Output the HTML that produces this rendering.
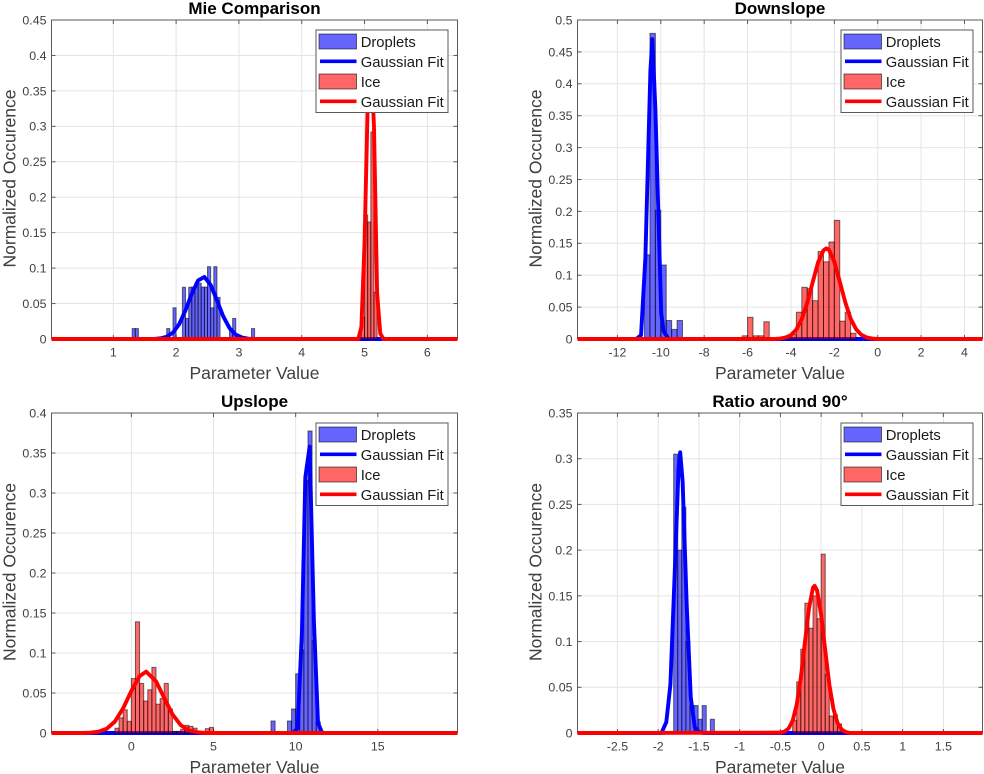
<!DOCTYPE html>
<html lang="en">
<head>
<meta charset="utf-8">
<title>Normalized occurrence histograms</title>
<style>
html,body{margin:0;padding:0;background:#fff;}
body{width:984px;height:774px;overflow:hidden;}
svg{display:block;font-family:"Liberation Sans",Arial,sans-serif;filter:blur(0.35px);}
</style>
</head>
<body>
<svg id="figure" xmlns="http://www.w3.org/2000/svg" width="984" height="774" viewBox="0 0 984 774"></svg>
<script>
/* ---- Mie Comparison ---- */
var mieXLimits = [0.016, 6.48];
var mieYLimits = [0, 0.45];
var mieXTicks = [1, 2, 3, 4, 5, 6];
var mieYTicks = [0, 0.05, 0.1, 0.15, 0.2, 0.25, 0.3, 0.35, 0.4, 0.45];
var mieBinWidth = [0.05];
var mieDropletBins = [1.3, 1.35, 1.85, 1.95, 2.1, 2.15, 2.2, 2.25, 2.3, 2.35, 2.4, 2.45, 2.5, 2.55, 2.6, 2.65, 2.85, 2.9, 3.2];
var mieDropletValues = [0.0147, 0.0147, 0.0147, 0.044, 0.073, 0.029, 0.073, 0.0733, 0.0787, 0.0787, 0.0733, 0.0733, 0.102, 0.044, 0.102, 0.0587, 0.0147, 0.029, 0.0147];
var mieDropletFitX = [0.016, 1.65, 1.75, 1.85, 1.95, 2.05, 2.15, 2.25, 2.35, 2.45, 2.55, 2.65, 2.75, 2.85, 2.95, 3.05, 3.15, 3.25, 6.48];
var mieDropletFitY = [0, 0, 0.0009, 0.0032, 0.009, 0.0211, 0.0406, 0.0639, 0.0826, 0.0876, 0.0763, 0.0545, 0.032, 0.0154, 0.0061, 0.002, 0.0005, 0, 0];
var mieIceBins = [4.95, 5.0, 5.05, 5.1, 5.15];
var mieIceValues = [0.031, 0.175, 0.165, 0.292, 0.066];
var mieIceFitX = [0.016, 4.9, 4.95, 5.0, 5.05, 5.1, 5.15, 5.2, 5.25, 5.3, 6.48];
var mieIceFitY = [0, 0, 0.017, 0.135, 0.33, 0.4, 0.3, 0.065, 0.008, 0, 0];

/* ---- Downslope ---- */
var downXLimits = [-13.84, 4.83];
var downYLimits = [0, 0.5];
var downXTicks = [-12, -10, -8, -6, -4, -2, 0, 2, 4];
var downYTicks = [0, 0.05, 0.1, 0.15, 0.2, 0.25, 0.3, 0.35, 0.4, 0.45, 0.5];
var downBinWidth = [0.25];
var downDropletBins = [-10.75, -10.5, -10.25, -10, -9.75, -9.5, -9.25];
var downDropletValues = [0.132, 0.479, 0.202, 0.116, 0.029, 0.015, 0.029];
var downDropletFitX = [-13.84, -11.13, -10.91, -10.71, -10.48, -10.39, -10.25, -9.98, -9.87, -9.64, 4.83];
var downDropletFitY = [0, 0, 0.006, 0.128, 0.42, 0.47, 0.36, 0.04, 0.012, 0, 0];
var downIceBins = [-6.25, -6, -5.75, -5.5, -5.25, -4.25, -4, -3.75, -3.5, -3.25, -3, -2.75, -2.5, -2.25, -2, -1.75, -1.5, -1.25];
var downIceValues = [0.005, 0.034, 0.005, 0.005, 0.027, 0.005, 0.0075, 0.042, 0.081, 0.079, 0.06, 0.137, 0.121, 0.152, 0.186, 0.028, 0.042, 0.009];
var downIceFitX = [-13.84, -4.75, -4.5, -4.25, -4, -3.75, -3.5, -3.25, -3, -2.75, -2.5, -2.37, -2.25, -2, -1.75, -1.5, -1.25, -1, -0.75, -0.5, -0.25, 0, 4.83];
var downIceFitY = [0, 0, 0.0007, 0.0022, 0.0061, 0.015, 0.0314, 0.0568, 0.0888, 0.12, 0.139, 0.142, 0.14, 0.121, 0.09, 0.058, 0.032, 0.0154, 0.0064, 0.0023, 0.0007, 0, 0];

/* ---- Upslope ---- */
var upXLimits = [-4.86, 19.85];
var upYLimits = [0, 0.4];
var upXTicks = [0, 5, 10, 15];
var upYTicks = [0, 0.05, 0.1, 0.15, 0.2, 0.25, 0.3, 0.35, 0.4];
var upBinWidth = [0.25];
var upDropletBins = [8.5, 9.5, 9.75, 10, 10.25, 10.5, 10.75, 11, 11.25];
var upDropletValues = [0.015, 0.015, 0.03, 0.074, 0.104, 0.316, 0.3775, 0.116, 0.014];
var upDropletFitX = [-4.86, 9.84, 10.12, 10.38, 10.59, 10.85, 11.11, 11.36, 11.62, 19.85];
var upDropletFitY = [0, 0, 0.006, 0.125, 0.32, 0.358, 0.14, 0.0125, 0, 0];
var upIceBins = [-1, -0.75, -0.5, -0.25, 0, 0.25, 0.5, 0.75, 1, 1.25, 1.5, 1.75, 2, 2.25, 2.5, 2.75, 3, 3.25, 3.5, 3.75, 4.5, 4.75];
var upIceValues = [0.006, 0.019, 0.029, 0.0146, 0.068, 0.139, 0.062, 0.04, 0.054, 0.082, 0.036, 0.043, 0.062, 0.03, 0.002, 0.002, 0.0046, 0.0096, 0.0083, 0.006, 0.0054, 0.007];
var upIceFitX = [-4.86, -3, -2.5, -2, -1.5, -1, -0.5, 0, 0.5, 0.9, 1.5, 2, 2.5, 3, 3.5, 4, 4.5, 19.85];
var upIceFitY = [0, 0, 0.0004, 0.0016, 0.0053, 0.0144, 0.0309, 0.0526, 0.071, 0.0767, 0.0647, 0.0437, 0.0234, 0.0099, 0.0033, 0.0009, 0, 0];

/* ---- Ratio around 90 ---- */
var ratioXLimits = [-2.99, 1.98];
var ratioYLimits = [0, 0.35];
var ratioXTicks = [-2.5, -2, -1.5, -1, -0.5, 0, 0.5, 1, 1.5];
var ratioYTicks = [0, 0.05, 0.1, 0.15, 0.2, 0.25, 0.3, 0.35];
var ratioBinWidth = [0.05];
var ratioDropletBins = [-1.81, -1.76, -1.71, -1.66, -1.61, -1.56, -1.51, -1.46, -1.36];
var ratioDropletValues = [0.305, 0.2, 0.247, 0.1, 0.03, 0.03, 0.015, 0.03, 0.015];
var ratioDropletFitX = [-2.99, -1.96, -1.9, -1.85, -1.8, -1.75, -1.73, -1.7, -1.65, -1.6, -1.55, -1.5, -1.45, 1.98];
var ratioDropletFitY = [0, 0, 0.012, 0.053, 0.168, 0.29, 0.307, 0.275, 0.14, 0.039, 0.006, 0.001, 0, 0];
var ratioIceBins = [-0.35, -0.3, -0.25, -0.2, -0.15, -0.1, -0.05, 0, 0.05, 0.1, 0.15, 0.2];
var ratioIceValues = [0.014, 0.056, 0.0916, 0.142, 0.1146, 0.15, 0.125, 0.1956, 0.064, 0.0186, 0.02, 0.01];
var ratioIceFitX = [-2.99, -0.5, -0.45, -0.4, -0.35, -0.3, -0.25, -0.2, -0.15, -0.1, -0.08, -0.05, 0, 0.05, 0.1, 0.15, 0.2, 0.25, 0.3, 0.35, 1.98];
var ratioIceFitY = [0, 0.0004, 0.0015, 0.0049, 0.0133, 0.0309, 0.06, 0.0985, 0.136, 0.159, 0.161, 0.156, 0.129, 0.0904, 0.0533, 0.0266, 0.0112, 0.0039, 0.0012, 0, 0];

var legendLabels = ['Droplets', 'Gaussian Fit', 'Ice', 'Gaussian Fit'];
var SVG_NS = 'http://www.w3.org/2000/svg';
var figure = document.getElementById('figure');

function make(tag, parent) {
  var node = document.createElementNS(SVG_NS, tag);
  parent.appendChild(node);
  return node;
}

function drawBars(layer, bins, values, width, xScale, yScale, fill) {
  bins.forEach(function (left, i) {
    var bar = make('rect', layer);
    
    
    bar.setAttribute('x', xScale(left));
    bar.setAttribute('y', yScale(values[i]));
    bar.setAttribute('width', xScale(left + width) - xScale(left));
    bar.setAttribute('height', yScale(0) - yScale(values[i]));
    bar.setAttribute('fill', fill);
    bar.setAttribute('fill-opacity', '0.6');
    bar.setAttribute('stroke', '#000');
    bar.setAttribute('stroke-opacity', '0.55');
    bar.setAttribute('stroke-width', '1');
  });
}

function drawFit(layer, xs, ys, xScale, yScale, color) {
  var fit = make('polyline', layer);
  
  
  fit.setAttribute('points', xs.map(function (x, i) {
    return xScale(x).toFixed(2) + ',' + yScale(ys[i]).toFixed(2);
  }).join(' '));
  fit.setAttribute('fill', 'none');
  fit.setAttribute('stroke', color);
  fit.setAttribute('stroke-width', '3.9');
  fit.setAttribute('stroke-linejoin', 'round');
}

function drawPanel(p) {
  var w = p.right - p.left;
  var h = p.bottom - p.top;
  function xScale(v) { return p.left + (v - p.xLimits[0]) / (p.xLimits[1] - p.xLimits[0]) * w; }
  function yScale(v) { return p.bottom - (v - p.yLimits[0]) / (p.yLimits[1] - p.yLimits[0]) * h; }

  var panel = make('g', figure);
  
  

  var grid = make('g', panel);
  
  
  p.xTicks.forEach(function (t) {
    var line = make('line', grid);
    
    
    line.setAttribute('x1', xScale(t));
    line.setAttribute('x2', xScale(t));
    line.setAttribute('y1', p.top);
    line.setAttribute('y2', p.bottom);
    line.setAttribute('stroke', '#e4e4e4');
  });
  p.yTicks.forEach(function (t) {
    var line = make('line', grid);
    
    
    line.setAttribute('x1', p.left);
    line.setAttribute('x2', p.right);
    line.setAttribute('y1', yScale(t));
    line.setAttribute('y2', yScale(t));
    line.setAttribute('stroke', '#e4e4e4');
  });

  var box = make('rect', panel);
  
  
  box.setAttribute('x', p.left);
  box.setAttribute('y', p.top);
  box.setAttribute('width', w);
  box.setAttribute('height', h);
  box.setAttribute('fill', 'none');
  box.setAttribute('stroke', '#5a5a5a');

  p.xTicks.forEach(function (t) {
    var bottomTick = make('line', panel);
    
    
    bottomTick.setAttribute('x1', xScale(t));
    bottomTick.setAttribute('x2', xScale(t));
    bottomTick.setAttribute('y1', p.bottom);
    bottomTick.setAttribute('y2', p.bottom - 4);
    bottomTick.setAttribute('stroke', '#5a5a5a');
    var topTick = make('line', panel);
    
    
    topTick.setAttribute('x1', xScale(t));
    topTick.setAttribute('x2', xScale(t));
    topTick.setAttribute('y1', p.top);
    topTick.setAttribute('y2', p.top + 4);
    topTick.setAttribute('stroke', '#5a5a5a');
    var label = make('text', panel);
    
    
    label.setAttribute('x', xScale(t));
    label.setAttribute('y', p.bottom + 17.5);
    label.setAttribute('text-anchor', 'middle');
    label.setAttribute('font-size', '12.4');
    label.setAttribute('fill', '#404040');
    label.textContent = String(t);
  });
  p.yTicks.forEach(function (t) {
    var leftTick = make('line', panel);
    
    
    leftTick.setAttribute('x1', p.left);
    leftTick.setAttribute('x2', p.left + 4);
    leftTick.setAttribute('y1', yScale(t));
    leftTick.setAttribute('y2', yScale(t));
    leftTick.setAttribute('stroke', '#5a5a5a');
    var rightTick = make('line', panel);
    
    
    rightTick.setAttribute('x1', p.right);
    rightTick.setAttribute('x2', p.right - 4);
    rightTick.setAttribute('y1', yScale(t));
    rightTick.setAttribute('y2', yScale(t));
    rightTick.setAttribute('stroke', '#5a5a5a');
    var label = make('text', panel);
    
    
    label.setAttribute('x', p.left - 5);
    label.setAttribute('y', yScale(t) + 4.4);
    label.setAttribute('text-anchor', 'end');
    label.setAttribute('font-size', '12.4');
    label.setAttribute('fill', '#404040');
    label.textContent = String(t);
  });

  var marks = make('g', panel);
  
  
  drawBars(marks, p.dropletBins, p.dropletValues, p.binWidth[0], xScale, yScale, '#0000ff');
  drawFit(marks, p.dropletFitX, p.dropletFitY, xScale, yScale, '#0000ff');
  drawBars(marks, p.iceBins, p.iceValues, p.binWidth[0], xScale, yScale, '#ff0000');
  drawFit(marks, p.iceFitX, p.iceFitY, xScale, yScale, '#ff0000');

  var title = make('text', panel);
  
  
  title.setAttribute('x', (p.left + p.right) / 2);
  title.setAttribute('y', p.top - 6);
  title.setAttribute('text-anchor', 'middle');
  title.setAttribute('font-size', '17');
  title.setAttribute('font-weight', 'bold');
  title.setAttribute('fill', '#000');
  title.textContent = p.title;

  var xTitle = make('text', panel);
  
  
  xTitle.setAttribute('x', (p.left + p.right) / 2);
  xTitle.setAttribute('y', p.bottom + 40);
  xTitle.setAttribute('text-anchor', 'middle');
  xTitle.setAttribute('font-size', '17.5');
  xTitle.setAttribute('fill', '#404040');
  xTitle.textContent = 'Parameter Value';

  var yTitle = make('text', panel);
  
  
  yTitle.setAttribute('transform', 'translate(' + (p.left - 36) + ',' + ((p.top + p.bottom) / 2 - 1) + ') rotate(-90)');
  yTitle.setAttribute('text-anchor', 'middle');
  yTitle.setAttribute('font-size', '17.5');
  yTitle.setAttribute('fill', '#404040');
  yTitle.textContent = 'Normalized Occurence';

  var legendX = p.right - 141.5;
  var legendY = p.top + 10;
  var legend = make('g', panel);
  
  
  var frame = make('rect', legend);
  
  
  frame.setAttribute('x', legendX);
  frame.setAttribute('y', legendY);
  frame.setAttribute('width', 132);
  frame.setAttribute('height', 82.5);
  frame.setAttribute('fill', '#fff');
  frame.setAttribute('stroke', '#5a5a5a');

  legendLabels.forEach(function (text, i) {
    var rowY = legendY + 12 + i * 20;
    var color = i < 2 ? '#0000ff' : '#ff0000';
    if (i % 2 === 0) {
      var swatch = make('rect', legend);
      
      
      swatch.setAttribute('x', legendX + 3);
      swatch.setAttribute('y', rowY - 8);
      swatch.setAttribute('width', 37.5);
      swatch.setAttribute('height', 15);
      swatch.setAttribute('fill', color);
      swatch.setAttribute('fill-opacity', '0.6');
      swatch.setAttribute('stroke', '#000');
      swatch.setAttribute('stroke-opacity', '0.55');
    } else {
      var key = make('line', legend);
      
      
      key.setAttribute('x1', legendX + 4);
      key.setAttribute('x2', legendX + 40.5);
      key.setAttribute('y1', rowY - 0.7);
      key.setAttribute('y2', rowY - 0.7);
      key.setAttribute('stroke', color);
      key.setAttribute('stroke-width', '3.6');
    }
    var label = make('text', legend);
    
    
    label.setAttribute('x', legendX + 44.7);
    label.setAttribute('y', rowY + 5);
    label.setAttribute('font-size', '14.8');
    label.setAttribute('fill', '#1a1a1a');
    label.textContent = text;
  });
}

drawPanel({ name: 'mie-comparison-panel', title: 'Mie Comparison', left: 51.5, right: 457.5, top: 20, bottom: 339,
  xLimits: mieXLimits, yLimits: mieYLimits, xTicks: mieXTicks, yTicks: mieYTicks, binWidth: mieBinWidth,
  dropletBins: mieDropletBins, dropletValues: mieDropletValues, dropletFitX: mieDropletFitX, dropletFitY: mieDropletFitY,
  iceBins: mieIceBins, iceValues: mieIceValues, iceFitX: mieIceFitX, iceFitY: mieIceFitY });
drawPanel({ name: 'downslope-panel', title: 'Downslope', left: 577.5, right: 982.5, top: 20, bottom: 339,
  xLimits: downXLimits, yLimits: downYLimits, xTicks: downXTicks, yTicks: downYTicks, binWidth: downBinWidth,
  dropletBins: downDropletBins, dropletValues: downDropletValues, dropletFitX: downDropletFitX, dropletFitY: downDropletFitY,
  iceBins: downIceBins, iceValues: downIceValues, iceFitX: downIceFitX, iceFitY: downIceFitY });
drawPanel({ name: 'upslope-panel', title: 'Upslope', left: 51.5, right: 457.5, top: 413, bottom: 733,
  xLimits: upXLimits, yLimits: upYLimits, xTicks: upXTicks, yTicks: upYTicks, binWidth: upBinWidth,
  dropletBins: upDropletBins, dropletValues: upDropletValues, dropletFitX: upDropletFitX, dropletFitY: upDropletFitY,
  iceBins: upIceBins, iceValues: upIceValues, iceFitX: upIceFitX, iceFitY: upIceFitY });
drawPanel({ name: 'ratio-around-90-panel', title: 'Ratio around 90\u00B0', left: 577.5, right: 982.5, top: 413, bottom: 733,
  xLimits: ratioXLimits, yLimits: ratioYLimits, xTicks: ratioXTicks, yTicks: ratioYTicks, binWidth: ratioBinWidth,
  dropletBins: ratioDropletBins, dropletValues: ratioDropletValues, dropletFitX: ratioDropletFitX, dropletFitY: ratioDropletFitY,
  iceBins: ratioIceBins, iceValues: ratioIceValues, iceFitX: ratioIceFitX, iceFitY: ratioIceFitY });
</script>
</body>
</html>
